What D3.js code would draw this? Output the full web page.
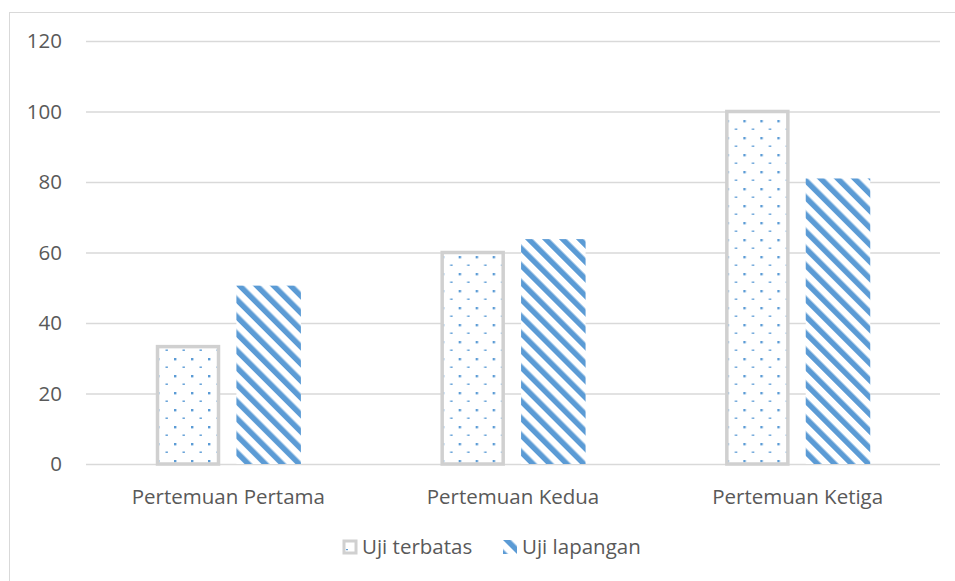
<!DOCTYPE html>
<html>
<head>
<meta charset="utf-8">
<script src="https://cdn.jsdelivr.net/npm/d3@7"></script>
<style>
  body { margin: 0; background: #fff; }
  text { font-family: "Open Sans", sans-serif; fill: #595959; }
</style>
</head>
<body>
<div id="chart"></div>
<script>
var categories = ["Pertemuan Pertama", "Pertemuan Kedua", "Pertemuan Ketiga"];
var seriesNames = ["Uji terbatas", "Uji lapangan"];
var ujiTerbatas = [33.3, 60, 100];
var ujiLapangan = [50.6, 63.8, 81];
var yTicks = [0, 20, 40, 60, 80, 100, 120];

var width = 955,
    height = 581;
var margin = {top: 41, right: 15, bottom: 117, left: 86};
var blue = "#5b9bd5";

var svg = d3.select("#chart").append("svg")
  .attr("width", width)
  .attr("height", height);

var defs = svg.append("defs");

// dotted fill for uji terbatas
var dots = defs.append("pattern")
  .attr("id", "dots")
  .attr("patternUnits", "userSpaceOnUse")
  .attr("width", 17)
  .attr("height", 17)
  .attr("x", 3)
  .attr("y", 1);
dots.append("rect").attr("width", 17).attr("height", 17).attr("fill", "#fff");
dots.append("rect").attr("x", 0).attr("y", 0).attr("width", 2.4).attr("height", 2.4).attr("fill", blue);
dots.append("rect").attr("x", 8.5).attr("y", 8.5).attr("width", 2.4).attr("height", 1.4).attr("fill", blue);

// diagonal stripes for uji lapangan
var stripes = defs.append("pattern")
  .attr("id", "stripes")
  .attr("patternUnits", "userSpaceOnUse")
  .attr("width", 12)
  .attr("height", 12)
  .attr("patternTransform", "rotate(-45)");
stripes.append("rect").attr("width", 12).attr("height", 12).attr("fill", "#fff");
stripes.append("rect").attr("width", 5.5).attr("height", 12).attr("fill", blue);

// chart frame (right and bottom fall outside the picture)
svg.append("rect")
  .attr("x", 9.5).attr("y", 12.5)
  .attr("width", 1000).attr("height", 1000)
  .attr("fill", "none")
  .attr("stroke", "#d9d9d9")
  .attr("stroke-width", 1);

var x0 = d3.scaleBand()
  .domain(categories)
  .range([margin.left, width - margin.right])
  .padding(0);

var x1 = d3.scaleBand()
  .domain(seriesNames)
  .range([0, x0.bandwidth()])
  .paddingInner(0.2)
  .paddingOuter(0.865);

var y = d3.scaleLinear()
  .domain([0, 120])
  .range([height - margin.bottom, margin.top]);

// gridlines + y labels
var yAxis = d3.axisLeft(y)
  .tickValues(yTicks)
  .tickSize(-(width - margin.left - margin.right))
  .tickPadding(24);
var gy = svg.append("g")
  .attr("transform", "translate(" + margin.left + ",0)")
  .call(yAxis);
gy.select(".domain").remove();
gy.selectAll("line").attr("stroke", "#d9d9d9").attr("stroke-width", 1.3);
gy.selectAll("text")
  .style("font-size", "20.5px")
  .attr("fill", "#595959");

// x labels
var xAxis = d3.axisBottom(x0).tickSize(0).tickPadding(25);
var gx = svg.append("g")
  .attr("transform", "translate(0," + y(0) + ")")
  .call(xAxis);
gx.select(".domain").remove();
gx.selectAll("text")
  .style("font-size", "20.5px")
  .attr("fill", "#595959");

var rows = categories.map(function(c, i) {
  return {cat: c, terbatas: ujiTerbatas[i], lapangan: ujiLapangan[i]};
});

var groups = svg.append("g").selectAll("g")
  .data(rows)
  .enter().append("g")
    .attr("transform", function(d) { return "translate(" + x0(d.cat) + ",0)"; });

groups.append("rect")
  .attr("x", x1("Uji terbatas") + 1.75)
  .attr("y", function(d) { return y(d.terbatas); })
  .attr("width", x1.bandwidth() - 3.5)
  .attr("height", function(d) { return y(0) - y(d.terbatas); })
  .attr("fill", "url(#dots)")
  .attr("stroke", "#d0d0d0")
  .attr("stroke-width", 3.5);

groups.append("rect")
  .attr("x", x1("Uji lapangan"))
  .attr("y", function(d) { return y(d.lapangan); })
  .attr("width", x1.bandwidth())
  .attr("height", function(d) { return y(0) - y(d.lapangan); })
  .attr("fill", "url(#stripes)");

// legend
var legend = svg.append("g");
legend.append("rect")
  .attr("x", 344).attr("y", 541)
  .attr("width", 12).attr("height", 12)
  .attr("fill", "#fff")
  .attr("stroke", "#d0d0d0")
  .attr("stroke-width", 3);
legend.append("rect")
  .attr("x", 346).attr("y", 549)
  .attr("width", 2).attr("height", 1.2)
  .attr("fill", blue);
legend.append("text")
  .attr("x", 362).attr("y", 554)
  .style("font-size", "20.5px")
  .text(seriesNames[0]);

var icon = legend.append("g").attr("transform", "translate(503,540)");
icon.append("clipPath").attr("id", "iconClip")
  .append("rect").attr("width", 14).attr("height", 14);
icon.append("rect")
  .attr("width", 14).attr("height", 14)
  .attr("fill", "url(#stripes)")
  .attr("clip-path", "url(#iconClip)");
legend.append("text")
  .attr("x", 522).attr("y", 554)
  .style("font-size", "20.5px")
  .text(seriesNames[1]);
</script>
</body>
</html>
